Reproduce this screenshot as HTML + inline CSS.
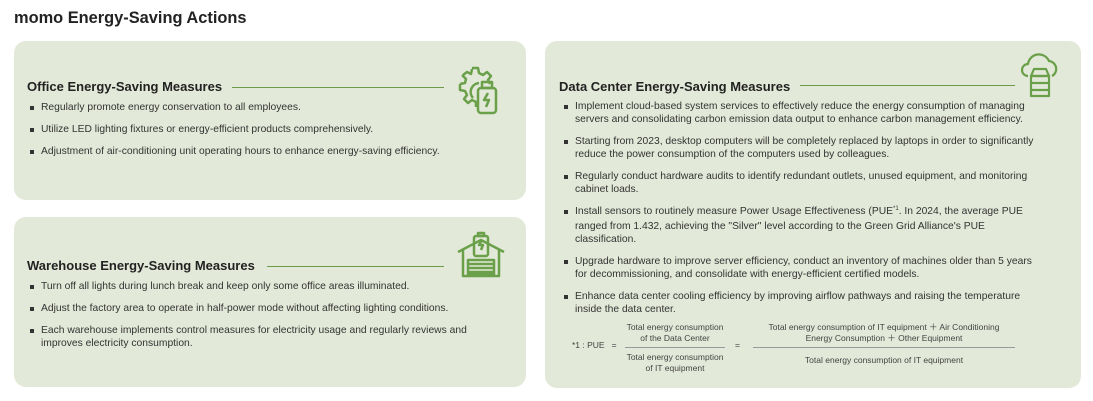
<!DOCTYPE html>
<html><head><meta charset="utf-8"><style>
*{margin:0;padding:0;box-sizing:border-box}
body{width:1093px;height:401px;background:#fff;font-family:"Liberation Sans",sans-serif;color:#333;position:relative;overflow:hidden}
.t{position:absolute;left:14px;top:9px;font-size:16.4px;font-weight:bold;color:#222}
.card{position:absolute;background:#e3e9d8;border-radius:12px}
h3{position:absolute;font-size:13px;font-weight:bold;color:#222;white-space:nowrap}
.ln{position:absolute;height:1px;background:#6a9a4a}
ul{position:absolute;list-style:none;font-size:10.3px;line-height:13px}
li{position:relative;padding-left:14px}
li+li{margin-top:9px}
li:before{content:"";position:absolute;left:3px;top:5px;width:4px;height:4px;background:#333}
.f{position:absolute;font-size:8.5px;line-height:11px;text-align:center;color:#444}
.sp{font-size:6px;position:relative;top:-4px}
</style></head><body>
<div class="t">momo Energy-Saving Actions</div>

<div class="card" style="left:14px;top:41px;width:512px;height:159px"></div>
<h3 style="left:27px;top:79px">Office Energy-Saving Measures</h3>
<div class="ln" style="left:232px;top:87px;width:212px"></div>
<svg style="position:absolute;left:455px;top:63px" width="50" height="55" viewBox="0 0 50 55" fill="none" stroke="#6aa04a" stroke-width="2.5" stroke-linejoin="round">
<path d="M17 5h6l1 5 4 2 4-3 4 4-3 4 2 4M8 12l4-3 4 2 1-5M5 21l5-1 1-4-4-4M5 21v6l5 1 2 4-3 4 4 4 4-3 4 2v5"/>
<path d="M24 20a9 9 0 0 0-6 15"/>
<rect x="23" y="25" width="18" height="25" rx="3"/><rect x="27" y="19" width="10" height="6"/>
<path d="M33 30l-4 7h5l-3 7"/></svg>
<ul style="left:27px;top:101px;width:480px"><li>Regularly promote energy conservation to all employees.</li><li>Utilize LED lighting fixtures or energy-efficient products comprehensively.</li><li>Adjustment of air-conditioning unit operating hours to enhance energy-saving efficiency.</li></ul>

<div class="card" style="left:14px;top:217px;width:512px;height:170px"></div>
<h3 style="left:27px;top:258px">Warehouse Energy-Saving Measures</h3>
<div class="ln" style="left:267px;top:266px;width:177px"></div>
<svg style="position:absolute;left:455px;top:230px" width="52" height="48" viewBox="0 0 52 48" fill="none" stroke="#6aa04a" stroke-width="2.5" stroke-linejoin="round">
<path d="M3 22L26 10 49 22"/><path d="M8 20v26h36V20"/><rect x="13" y="30" width="26" height="14"/><path d="M13 34h26M13 38h26M13 42h26"/>
<rect x="19" y="6" width="14" height="20" rx="2"/><rect x="23" y="3" width="6" height="3"/><path d="M27 10l-3 5h4l-2 5"/></svg>
<ul style="left:27px;top:280px;width:480px"><li>Turn off all lights during lunch break and keep only some office areas illuminated.</li><li>Adjust the factory area to operate in half-power mode without affecting lighting conditions.</li><li>Each warehouse implements control measures for electricity usage and regularly reviews and improves electricity consumption.</li></ul>

<div class="card" style="left:545px;top:41px;width:536px;height:347px"></div>
<h3 style="left:559px;top:79px">Data Center Energy-Saving Measures</h3>
<div class="ln" style="left:800px;top:85px;width:215px"></div>
<svg style="position:absolute;left:1020px;top:50px" width="40" height="50" viewBox="0 0 40 50" fill="none" stroke="#6aa04a" stroke-width="2.2" stroke-linejoin="round">
<path d="M8 26a6 6 0 0 1 0-12 11 11 0 0 1 21-3 8 8 0 0 1 3 15"/><path d="M11 26l3-7h12l3 7z"/><rect x="11" y="26" width="18" height="20"/><path d="M11 33h18M11 40h18"/></svg>
<ul style="left:561px;top:100px;width:482px"><li>Implement cloud-based system services to effectively reduce the energy consumption of managing servers and consolidating carbon emission data output to enhance carbon management efficiency.</li><li>Starting from 2023, desktop computers will be completely replaced by laptops in order to significantly reduce the power consumption of the computers used by colleagues.</li><li>Regularly conduct hardware audits to identify redundant outlets, unused equipment, and monitoring cabinet loads.</li><li>Install sensors to routinely measure Power Usage Effectiveness (PUE<span class="sp">*1</span>. In 2024, the average PUE ranged from 1.432, achieving the "Silver" level according to the Green Grid Alliance's PUE classification.</li><li>Upgrade hardware to improve server efficiency, conduct an inventory of machines older than 5 years for decommissioning, and consolidate with energy-efficient certified models.</li><li>Enhance data center cooling efficiency by improving airflow pathways and raising the temperature inside the data center.</li></ul>

<div class="f" style="left:572px;top:340px">*1 : PUE&nbsp;&nbsp;&nbsp;=</div>
<div class="f" style="left:625px;top:322px;width:100px">Total energy consumption<br>of the Data Center</div>
<div class="ln" style="left:625px;top:347px;width:100px;background:#999"></div>
<div class="f" style="left:625px;top:352px;width:100px">Total energy consumption<br>of IT equipment</div>
<div class="f" style="left:735px;top:340px">=</div>
<div class="f" style="left:753px;top:322px;width:262px">Total energy consumption of IT equipment ＋ Air Conditioning<br>Energy Consumption ＋ Other Equipment</div>
<div class="ln" style="left:753px;top:347px;width:262px;background:#999"></div>
<div class="f" style="left:753px;top:355px;width:262px">Total energy consumption of IT equipment</div>
</body></html>
